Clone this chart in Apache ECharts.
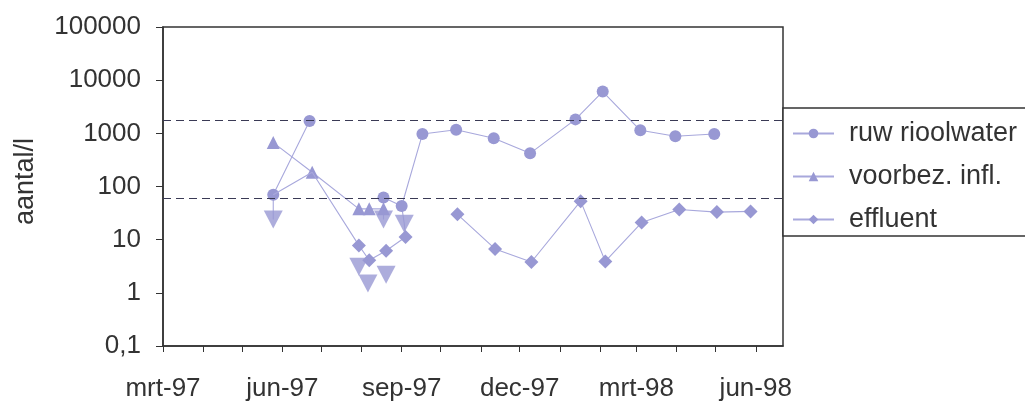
<!DOCTYPE html>
<html>
<head>
<meta charset="utf-8">
<script src="https://cdn.jsdelivr.net/npm/echarts@6/dist/echarts.min.js"></script>
<style>
  html, body { margin: 0; padding: 0; background: #ffffff; }
  #chart { width: 1025px; height: 402px; }
</style>
</head>
<body>
<div id="chart"></div>
<script>
// Dutch month abbreviations for the date axis
const monthNames = ['jan', 'feb', 'mrt', 'apr', 'mei', 'jun', 'jul', 'aug', 'sep', 'okt', 'nov', 'dec'];

// Raw sewage (ruw rioolwater), counts per litre; null = no sample (line breaks)
const ruwDates  = ['1997-05-25', '1997-06-22', '1997-07-20', '1997-08-18', '1997-09-01', '1997-09-17', '1997-10-13', '1997-11-11', '1997-12-09', '1998-01-13', '1998-02-03', '1998-03-04', '1998-03-31', '1998-04-30'];
const ruwValues = [70, 1700, null, 62, 43, 970, 1170, 810, 420, 1830, 6100, 1140, 880, 970];

// Pre-treated influent (voorbez. infl.)
const inflDates  = ['1997-05-25', '1997-06-24', '1997-07-30', '1997-08-07', '1997-08-18'];
const inflValues = [670, 185, 38, 38, 38];

// Effluent; the first two samples only carry the connecting line
const effDates  = ['1997-05-25', '1997-06-24', '1997-07-30', '1997-08-07', '1997-08-20', '1997-09-04', '1997-09-25', '1997-10-14', '1997-11-12', '1997-12-10', '1998-01-17', '1998-02-05', '1998-03-05', '1998-04-03', '1998-05-02', '1998-05-28'];
const effValues = [70, 185, 7.8, 4.1, 6.2, 11.2, null, 30, 6.7, 3.8, 53, 3.9, 21, 37, 33, 34];
const effHidden = [true, true];

// Below-detection-limit results (drawn as downward triangles)
const limitDates  = ['1997-05-25', '1997-07-30', '1997-08-06', '1997-08-18', '1997-08-20', '1997-09-03'];
const limitValues = [24, 3.1, 1.5, 24, 2.2, 20];

// Drop lines from a sample down to its detection-limit marker
const dropDates  = ['1997-05-25', '1997-05-25', '1997-06-10', '1997-08-18', '1997-08-18', '1997-08-25', '1997-09-01', '1997-09-03', '1997-09-04'];
const dropValues = [70, 24, null, 62, 24, null, 43, 20, 11.2];

// Reference levels (dashed)
const refLevels = [1800, 60];

// Axis ticks: every month, labels every quarter
const axisStart = '1997-03-01';
const axisEnd   = '1998-06-22';
const tickMonths  = ['1997-03-01','1997-04-01','1997-05-01','1997-06-01','1997-07-01','1997-08-01','1997-09-01','1997-10-01','1997-11-01','1997-12-01','1998-01-01','1998-02-01','1998-03-01','1998-04-01','1998-05-01','1998-06-01'];
const labelMonths = ['1997-03-01','1997-06-01','1997-09-01','1997-12-01','1998-03-01','1998-06-01'];

function ts(s) {
  const p = s.split('-');
  return new Date(+p[0], +p[1] - 1, +p[2]).getTime();
}
function pairs(dates, values) {
  return dates.map((d, i) => [ts(d), values[i] == null ? '-' : values[i]]);
}

const markerColor = '#9898d3';
const lineColor = '#a8a8dc';
const textColor = '#333333';
const font = '"Liberation Sans", Arial, sans-serif';

const chart = echarts.init(document.getElementById('chart'), null, { renderer: 'canvas' });

const effData = pairs(effDates, effValues).map((p, i) =>
  effHidden[i] ? { value: p, symbol: 'none' } : p);

chart.setOption({
  animation: false,
  backgroundColor: '#ffffff',
  textStyle: { fontFamily: font, color: textColor },
  grid: {
    left: 163, right: 242, top: 27, bottom: 54,
    show: true, borderColor: '#333333', borderWidth: 1.5, backgroundColor: 'transparent'
  },
  legend: {
    data: ['ruw rioolwater', 'voorbez. infl.', 'effluent'],
    orient: 'vertical',
    left: 783, top: 108,
    padding: [10, 60, 1, 9],
    itemWidth: 41, itemHeight: 12, itemGap: 12,
    borderColor: '#333333', borderWidth: 1.5,
    backgroundColor: '#ffffff',
    textStyle: { fontFamily: font, fontSize: 27, color: textColor, lineHeight: 31, padding: [0, 0, 0, 10] }
  },
  xAxis: {
    type: 'value',
    min: ts(axisStart), max: ts(axisEnd),
    axisLine: { show: true, lineStyle: { color: '#333333', width: 1.5 } },
    axisTick: { show: true, length: 6, lineStyle: { color: '#333333', width: 1 },
                customValues: tickMonths.map(ts) },
    axisLabel: {
      customValues: labelMonths.map(ts),
      fontFamily: font, fontSize: 26, color: textColor, margin: 30,
      formatter: function (v) {
        const d = new Date(v);
        return monthNames[d.getMonth()] + '-' + String(d.getFullYear()).slice(2);
      }
    },
    splitLine: { show: false }
  },
  yAxis: {
    type: 'log', logBase: 10,
    min: 0.1, max: 100000, interval: 1,
    name: 'aantal/l', nameLocation: 'middle', nameGap: 124, nameRotate: 90,
    nameTextStyle: { fontFamily: font, fontSize: 27, color: textColor, padding: [0, 0, 0, 10] },
    axisLine: { show: true, lineStyle: { color: '#333333', width: 1.5 } },
    axisTick: { show: true, length: 7, lineStyle: { color: '#333333', width: 1 } },
    axisLabel: {
      fontFamily: font, fontSize: 26, color: textColor, margin: 22,
      formatter: function (v) { return v < 1 ? String(v).replace('.', ',') : String(Math.round(v)); }
    },
    splitLine: { show: false }
  },
  series: [
    {
      name: 'drop', type: 'line', data: pairs(dropDates, dropValues),
      symbol: 'none', connectNulls: false, silent: true,
      lineStyle: { color: lineColor, width: 1.1 }, z: 1
    },
    {
      name: 'ruw rioolwater', type: 'line', data: pairs(ruwDates, ruwValues),
      symbol: 'circle', symbolSize: 12, connectNulls: false,
      itemStyle: { color: markerColor },
      lineStyle: { color: lineColor, width: 1.1 }, z: 2,
      markLine: {
        silent: true, symbol: 'none', label: { show: false },
        lineStyle: { color: '#3a3a55', width: 1.2, type: [8, 5] },
        data: refLevels.map(v => ({ yAxis: v }))
      }
    },
    {
      name: 'voorbez. infl.', type: 'line', data: pairs(inflDates, inflValues),
      symbol: 'triangle', symbolSize: 13,
      itemStyle: { color: markerColor },
      lineStyle: { color: lineColor, width: 1.1 }, z: 3
    },
    {
      name: 'effluent', type: 'line', data: effData,
      symbol: 'diamond', symbolSize: 14, connectNulls: false,
      itemStyle: { color: markerColor },
      lineStyle: { color: lineColor, width: 1.1 }, z: 4
    },
    {
      name: 'grens', type: 'scatter', data: pairs(limitDates, limitValues),
      symbol: 'triangle', symbolRotate: 180, symbolSize: [19, 18],
      itemStyle: { color: markerColor }, z: 5
    }
  ]
});
</script>
</body>
</html>
